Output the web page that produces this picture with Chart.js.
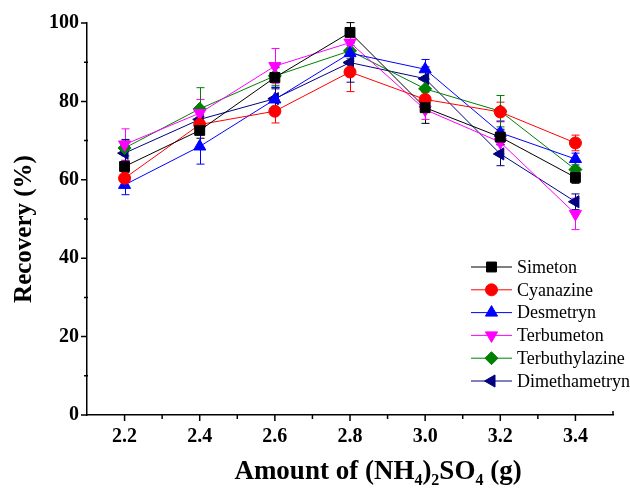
<!DOCTYPE html>
<html>
<head>
<meta charset="utf-8">
<script src="https://cdn.jsdelivr.net/npm/chart.js@4/dist/chart.umd.min.js"></script>
<style>
  html, body { margin: 0; padding: 0; background: #fff; }
  #wrap { width: 630px; height: 488px; }
</style>
</head>
<body>
<div id="wrap"><canvas id="chart1" width="630" height="488"></canvas></div>
<script>
var amounts = [2.2, 2.4, 2.6, 2.8, 3.0, 3.2, 3.4];

var simeton        = [63.4, 72.6, 86.1, 97.6, 78.4, 70.9, 60.6];
var cyanazine      = [60.4, 74.1, 77.5, 87.5, 80.5, 77.3, 69.4];
var desmetryn      = [58.7, 68.5, 80.5, 92.3, 88.2, 72.0, 65.3];
var terbumeton     = [69.0, 77.0, 89.0, 95.0, 77.9, 69.6, 51.3];
var terbuthylazine = [68.1, 78.1, 86.5, 92.9, 83.2, 77.5, 62.6];
var dimethametryn  = [66.8, 75.4, 80.7, 89.9, 85.8, 66.6, 54.4];

var simetonErr        = [1.5, 2.0, 2.5, 2.5, 4.0, 2.0, 1.5];
var cyanazineErr      = [2.0, 2.0, 3.0, 5.0, 3.0, 2.5, 2.0];
var desmetrynErr      = [2.5, 4.5, 3.0, 2.0, 2.5, 3.0, 1.5];
var terbumetonErr     = [4.0, 3.5, 4.5, 2.0, 2.5, 3.0, 4.0];
var terbuthylazineErr = [2.0, 5.4, 2.5, 2.0, 2.5, 4.0, 2.0];
var dimethametrynErr  = [3.5, 3.0, 2.5, 5.0, 3.0, 3.0, 2.0];

var names = ["Simeton", "Cyanazine", "Desmetryn", "Terbumeton", "Terbuthylazine", "Dimethametryn"];
var values = [simeton, cyanazine, desmetryn, terbumeton, terbuthylazine, dimethametryn];
var errors = [simetonErr, cyanazineErr, desmetrynErr, terbumetonErr, terbuthylazineErr, dimethametrynErr];
var colors = ["#000000", "#ff0000", "#0000ff", "#ff00ff", "#008000", "#000080"];
var styles = ["rect", "circle", "triangle", "triangle", "rectRot", "triangle"];
var rotations = [0, 0, 0, 180, 0, -90];
var radii = [7, 6, 7, 7, 6.5, 7];

var serif = "'Liberation Serif', 'Times New Roman', serif";

var datasets = names.map(function (n, i) {
  return {
    label: n,
    data: amounts.map(function (x, j) { return { x: x, y: values[i][j] }; }),
    errs: errors[i],
    borderColor: colors[i],
    backgroundColor: colors[i],
    borderWidth: 1,
    pointStyle: styles[i],
    pointRotation: rotations[i],
    pointRadius: radii[i],
    pointBorderWidth: 1,
    fill: false,
    tension: 0
  };
});

// error bars, legend, axis ticks and titles
var extras = {
  id: 'extras',
  beforeDatasetsDraw: function (chart) {
    var ctx = chart.ctx, xs = chart.scales.x, ys = chart.scales.y;
    ctx.save();
    ctx.lineWidth = 1;
    chart.data.datasets.forEach(function (ds) {
      ctx.strokeStyle = ds.borderColor;
      ds.data.forEach(function (p, j) {
        var px = Math.round(xs.getPixelForValue(p.x)) + 0.5;
        var top = ys.getPixelForValue(p.y + ds.errs[j]);
        var bot = ys.getPixelForValue(p.y - ds.errs[j]);
        ctx.beginPath();
        ctx.moveTo(px, top); ctx.lineTo(px, bot);
        ctx.moveTo(px - 4, top); ctx.lineTo(px + 4, top);
        ctx.moveTo(px - 4, bot); ctx.lineTo(px + 4, bot);
        ctx.stroke();
      });
    });
    ctx.restore();
  },
  afterDraw: function (chart) {
    var ctx = chart.ctx, xs = chart.scales.x, ys = chart.scales.y;
    var a = chart.chartArea;
    ctx.save();
    ctx.strokeStyle = '#000';
    ctx.lineWidth = 1.5;
    ctx.beginPath();
    for (var i = 21; i <= 35; i++) {
      var px = xs.getPixelForValue(i / 10);
      if (i == 35) { ctx.moveTo(px, a.bottom); ctx.lineTo(px, a.bottom - 4); continue; }
      if (i == 21) continue;
      ctx.moveTo(px, a.bottom); ctx.lineTo(px, a.bottom + (i % 2 == 0 ? 6 : 4));
    }
    for (var k = 0; k <= 100; k += 10) {
      var py = ys.getPixelForValue(k);
      if (k % 20 == 0) { ctx.moveTo(a.left - 6, py); ctx.lineTo(a.left, py); }
      else { ctx.moveTo(a.left - 3, py); ctx.lineTo(a.left + 1, py); }
    }
    ctx.stroke();

    // legend
    ctx.lineWidth = 1;
    ctx.font = '18px ' + serif;
    ctx.textBaseline = 'middle';
    ctx.textAlign = 'left';
    chart.data.datasets.forEach(function (ds, i) {
      var ly = 267 + i * 22.8;
      ctx.strokeStyle = ds.borderColor;
      ctx.fillStyle = ds.backgroundColor;
      ctx.beginPath();
      ctx.moveTo(471, ly); ctx.lineTo(512, ly);
      ctx.stroke();
      Chart.helpers.drawPoint(ctx, { pointStyle: ds.pointStyle, radius: ds.pointRadius, rotation: ds.pointRotation, borderWidth: 1 }, 491.5, ly);
      ctx.fillStyle = '#000';
      ctx.fillText(ds.label, 517, ly + 1);
    });

    // y title
    ctx.fillStyle = '#000';
    ctx.save();
    ctx.translate(31, 229);
    ctx.rotate(-Math.PI / 2);
    ctx.font = 'bold 25px ' + serif;
    ctx.textAlign = 'center';
    ctx.textBaseline = 'alphabetic';
    ctx.fillText('Recovery (%)', 0, 0);
    ctx.restore();

    // x title with subscripts
    var parts = [['Amount of (NH', 0], ['4', 1], [')', 0], ['2', 1], ['SO', 0], ['4', 1], [' (g)', 0]];
    var big = 'bold 27px ' + serif, small = 'bold 16px ' + serif;
    var total = 0;
    parts.forEach(function (p) { ctx.font = p[1] ? small : big; total += ctx.measureText(p[0]).width; });
    var tx = 378 - total / 2, base = 479;
    ctx.textAlign = 'left';
    ctx.textBaseline = 'alphabetic';
    parts.forEach(function (p) {
      ctx.font = p[1] ? small : big;
      ctx.fillText(p[0], tx, base + (p[1] ? 6 : 0));
      tx += ctx.measureText(p[0]).width;
    });
    ctx.restore();
  }
};

new Chart("chart1", {
  type: 'line',
  data: { datasets: datasets },
  options: {
    responsive: false,
    animation: false,
    layout: { padding: { left: 0, right: 17, top: 23, bottom: 0 } },
    plugins: { legend: { display: false }, tooltip: { enabled: false } },
    scales: {
      x: {
        type: 'linear',
        min: 2.1,
        max: 3.5,
        afterFit: function (s) { s.height = 73; },
        border: { display: true, color: '#000', width: 1.5 },
        grid: { display: true, drawOnChartArea: false, color: 'rgba(0,0,0,0)', tickLength: 6 },
        ticks: {
          stepSize: 0.1,
          autoSkip: false,
          maxRotation: 0,
          padding: 4,
          color: '#000',
          font: { family: serif, size: 20, weight: 'bold' },
          callback: function (v) {
            var i = Math.round(v * 10);
            return (i % 2 == 0 && i >= 22 && i <= 34) ? (i / 10).toFixed(1) : '';
          }
        }
      },
      y: {
        min: 0,
        max: 100,
        afterFit: function (s) { s.width = 87; },
        border: { display: true, color: '#000', width: 1.5 },
        grid: { display: true, drawOnChartArea: false, color: 'rgba(0,0,0,0)', tickLength: 6 },
        ticks: {
          stepSize: 10,
          autoSkip: false,
          padding: 2,
          color: '#000',
          font: { family: serif, size: 20, weight: 'bold' },
          callback: function (v) { return v % 20 == 0 ? v : ''; }
        }
      }
    }
  },
  plugins: [extras]
});
</script>
</body>
</html>
